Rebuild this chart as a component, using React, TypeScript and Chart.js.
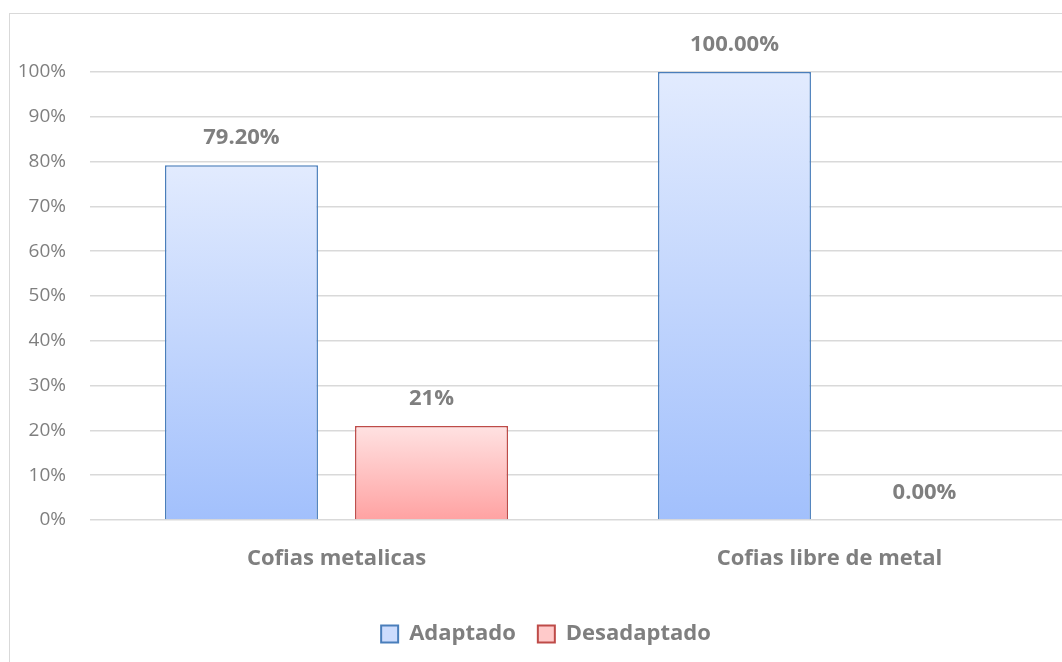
import React, { useEffect, useRef } from "react";
import { Chart, registerables } from "chart.js";

Chart.register(...registerables);

const categories = ["Cofias metalicas", "Cofias libre de metal"];
const adaptadoValues = [0.792, 1.0];
const desadaptadoValues = [0.21, 0.0];
const adaptadoLabels = ["79.20%", "100.00%"];
const desadaptadoLabels = ["21%", "0.00%"];
const seriesNames = ["Adaptado", "Desadaptado"];
const yTicksMax = 1;
const yTickStep = 0.1;

const FONT = "'Open Sans', sans-serif";
const TEXT = "#7f7f7f";

function barGradient(ctx: any, top: string, bottom: string, fallback: string) {
  const chart = ctx.chart;
  const y = chart.scales && chart.scales.y;
  if (!chart.chartArea || !y || ctx.parsed == null) return fallback;
  const yTop = y.getPixelForValue(ctx.parsed.y);
  const yBot = y.getPixelForValue(0);
  if (!isFinite(yTop) || !isFinite(yBot) || yBot - yTop < 1) return fallback;
  const g = chart.ctx.createLinearGradient(0, yTop, 0, yBot);
  g.addColorStop(0, top);
  g.addColorStop(1, bottom);
  return g;
}

const valueLabelPlugin = {
  id: "valueLabels",
  afterDatasetsDraw(chart: any) {
    const { ctx } = chart;
    const labelSets = [adaptadoLabels, desadaptadoLabels];
    ctx.save();
    ctx.font = `bold 22px ${FONT}`;
    ctx.fillStyle = TEXT;
    ctx.textAlign = "center";
    ctx.textBaseline = "middle";
    chart.data.datasets.forEach((_: any, di: number) => {
      const meta = chart.getDatasetMeta(di);
      meta.data.forEach((bar: any, i: number) => {
        ctx.fillText(labelSets[di][i], bar.x, bar.y - 27);
      });
    });
    ctx.restore();
  },
};

export default function App() {
  const ref = useRef<HTMLCanvasElement>(null);
  useEffect(() => {
    if (!ref.current) return;
    const chart = new Chart(ref.current, {
      type: "bar",
      data: {
        labels: categories,
        datasets: [
          {
            label: seriesNames[0],
            data: adaptadoValues,
            backgroundColor: (c: any) => barGradient(c, "#e2ebfe", "#a2c0fc", "#c4d7fd"),
            borderColor: "#4a7ebb",
            borderWidth: 1.5,
          },
          {
            label: seriesNames[1],
            data: desadaptadoValues,
            backgroundColor: (c: any) => barGradient(c, "#ffe2e2", "#ffa2a2", "#ffc4c4"),
            borderColor: "#be4b48",
            borderWidth: 1.5,
          },
        ],
      },
      options: {
        responsive: false,
        animation: false,
        layout: { padding: { top: 72, bottom: 0, left: 16, right: 0 } },
        datasets: {
          bar: { categoryPercentage: 0.771, barPercentage: 0.805 },
        },
        plugins: {
          legend: {
            position: "bottom",
            labels: {
              color: TEXT,
              font: { family: FONT, size: 22, weight: "bold" },
              boxWidth: 17,
              boxHeight: 17,
              padding: 22,
              generateLabels: (ch: any) =>
                ch.data.datasets.map((ds: any, i: number) => ({
                  text: ds.label,
                  fillStyle: i === 0 ? "#cddcfd" : "#ffcaca",
                  strokeStyle: ds.borderColor,
                  lineWidth: 2,
                  fontColor: TEXT,
                  datasetIndex: i,
                  hidden: false,
                })),
            },
          },
          tooltip: { enabled: false },
        },
        scales: {
          x: {
            grid: { display: false },
            border: { display: false },
            ticks: {
              color: TEXT,
              font: { family: FONT, size: 22, weight: "bold" },
              padding: 18,
            },
            afterFit: (s: any) => {
              s.height = 81;
            },
          },
          y: {
            min: 0,
            max: yTicksMax,
            grid: { color: "#d9d9d9", lineWidth: 1.5, drawTicks: false },
            border: { display: false },
            ticks: {
              stepSize: yTickStep,
              color: TEXT,
              font: { family: FONT, size: 19 },
              padding: 24,
              callback: (v: any) => `${Math.round(Number(v) * 100)}%`,
            },
            afterFit: (s: any) => {
              s.width = 74;
            },
          },
        },
      },
      plugins: [valueLabelPlugin],
    } as any);
    return () => chart.destroy();
  }, []);

  return (
    <div style={{ position: "fixed", left: 0, top: 0, width: 1062, height: 662, overflow: "hidden", background: "#fff" }}>
      <div
        style={{
          position: "absolute",
          left: 9,
          top: 13,
          width: 1200,
          height: 800,
          border: "1.5px solid #d9d9d9",
          boxSizing: "border-box",
        }}
      />
      <canvas
        ref={ref}
        width={1076}
        height={655}
        style={{ position: "absolute", left: 0, top: 0, width: 1076, height: 655 }}
      />
    </div>
  );
}
